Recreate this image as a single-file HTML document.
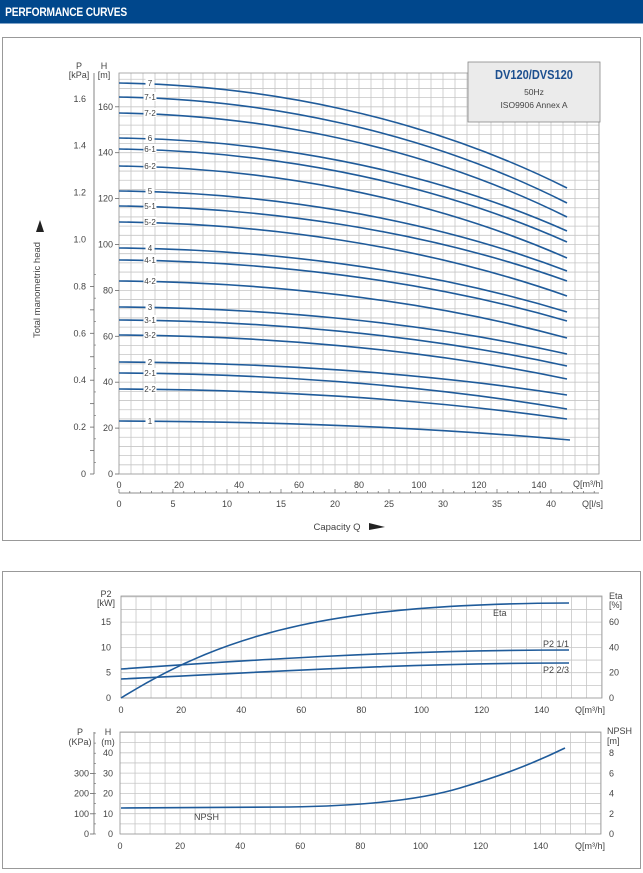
<!DOCTYPE html>
<html><head><meta charset="utf-8"><style>
body{margin:0;background:#fff;}
svg{display:block;font-family:"Liberation Sans",sans-serif;}
</style></head><body>
<svg id="s" width="643" height="873" viewBox="0 0 643 873" xmlns="http://www.w3.org/2000/svg">
<rect x="0" y="0" width="643" height="23" fill="#00478c"/>
<rect x="0" y="23" width="643" height="1" fill="#7fa3c8"/>
<text x="6" y="16" font-size="12" font-weight="bold" fill="#fff" transform="scale(0.85,1)" style="letter-spacing:-0.2px">PERFORMANCE CURVES</text>
<rect x="2.5" y="37.5" width="638" height="503" fill="none" stroke="#999" stroke-width="1"/>
<rect x="2.5" y="571.5" width="638" height="297" fill="none" stroke="#999" stroke-width="1"/>
<g id="grids"></g>
<g id="curves" fill="none" stroke="#1f5b9a" stroke-width="1.6"></g>
<rect x="468" y="62" width="132" height="60" fill="#ebebeb" stroke="#888" stroke-width="0.8"/>
<text x="534" y="79" font-size="13" font-weight="bold" fill="#1c4f8f" text-anchor="middle" transform="translate(534,0) scale(0.85,1) translate(-534,0)">DV120/DVS120</text>
<text x="534" y="95" font-size="8.5" fill="#444" text-anchor="middle">50Hz</text>
<text x="534" y="108" font-size="8.5" fill="#444" text-anchor="middle">ISO9906 Annex A</text>
<g font-size="9" fill="#444" id="txt">
<text x="79" y="69" text-anchor="middle">P</text><text x="79" y="78" text-anchor="middle">[kPa]</text>
<text x="104" y="69" text-anchor="middle">H</text><text x="104" y="78" text-anchor="middle">[m]</text>
<text x="40" y="290" font-size="9.5" text-anchor="middle" transform="rotate(-90 40 290)">Total manometric head</text>
<polygon points="36,232 44,232 40,220" fill="#222"/>
<text x="337" y="530" text-anchor="middle" font-size="9.5">Capacity Q</text>
<polygon points="369,523 385,527 369,530" fill="#222"/>
<text x="573" y="487" font-size="9">Q[m³/h]</text>
<text x="582" y="507" font-size="9">Q[l/s]</text>
<text x="106" y="597" text-anchor="middle">P2</text><text x="106" y="606" text-anchor="middle">[kW]</text>
<text x="609" y="599">Eta</text><text x="609" y="608">[%]</text>
<text x="493" y="616">Eta</text>
<text x="543" y="647">P2 1/1</text>
<text x="543" y="673">P2 2/3</text>
<text x="575" y="713">Q[m³/h]</text>
<text x="80" y="735" text-anchor="middle">P</text><text x="80" y="745" text-anchor="middle">(KPa)</text>
<text x="108" y="735" text-anchor="middle">H</text><text x="108" y="745" text-anchor="middle">(m)</text>
<text x="607" y="734">NPSH</text><text x="607" y="744">[m]</text>
<text x="194" y="820">NPSH</text>
<text x="575" y="849">Q[m³/h]</text>
</g>
<g id="ticks" font-size="9" fill="#444"></g>
</svg>
<script>
var NS="http://www.w3.org/2000/svg";
function el(p,t,a,txt){var e=document.createElementNS(NS,t);for(var k in a)e.setAttribute(k,a[k]);if(txt!==undefined)e.textContent=txt;document.getElementById(p).appendChild(e);return e;}
function line(p,x1,y1,x2,y2,c,w){el(p,"line",{x1:x1,y1:y1,x2:x2,y2:y2,stroke:c,"stroke-width":w||1});}
function grid(x0,x1,y0,y1,dx,dy){
 for(var x=x0;x<=x1+0.1;x+=dx)line("grids",x,y0,x,y1,"#c6c6c6",0.8);
 for(var y=y1;y>=y0-0.1;y-=dy)line("grids",x0,y,x1,y,"#c6c6c6",0.8);
 el("grids","rect",{x:x0,y:y0,width:x1-x0,height:y1-y0,fill:"none",stroke:"#999","stroke-width":0.8});
}
grid(119,599,73,474,12,9.18);
line("grids",94,73,94,474,"#666",0.8);
for(var i=0;i<=8;i++){var y=474-i*23.45;line("grids",90,y,94,y,"#666",0.8);line("grids",94,y-11.7,96,y-11.7,"#666",0.6);}
for(var i=0;i<=8;i++){var y=474-i*45.9;line("grids",115,y,119,y,"#666",0.8);}
var P=["0","0.2","0.4","0.6","0.8","1.0","1.2","1.4","1.6"];
for(var i=0;i<=8;i++)el("ticks","text",{x:86,y:477-i*46.9,"text-anchor":"end"},P[i]);
for(var i=0;i<=8;i++)el("ticks","text",{x:113,y:477-i*45.9,"text-anchor":"end"},String(i*20));
for(var i=0;i<=7;i++)el("ticks","text",{x:119+i*60,y:488,"text-anchor":"middle"},String(i*20));
line("grids",119,493,599,493,"#666",0.8);
for(var q=0;q<=44;q++){var x=119+q*10.8;if(x>600)break;line("grids",x,q%5==0?489:491,x,493,"#666",0.7);}
for(var i=0;i<=8;i++)el("ticks","text",{x:119+i*54,y:507,"text-anchor":"middle"},String(i*5));
var C=[["7",83,188],["7-1",97,203],["7-2",113,217],["6",138,231],["6-1",149,242],["6-2",166,258],["5",191,271],["5-1",206,281],["5-2",222,296],["4",248,312],["4-1",260,321],["4-2",281,338],["3",307,354],["3-1",320,366],["3-2",335,379],["2",362,395],["2-1",373,409],["2-2",389,419],["1",421,440]];
C.forEach(function(c){var x1=c[0]=="1"?570:567;var y0=c[1],y1=c[2];
 el("curves","path",{d:"M119,"+y0+" C260,"+(y0+(y1-y0)*0.02)+" 420,"+(y0+(y1-y0)*0.3)+" "+x1+","+y1});
 var w=c[0].length>1?13:9;
 el("ticks","rect",{x:150-w/2,y:y0-5,width:w,height:9,fill:"#fff"});
 el("ticks","text",{x:150,y:y0+3,"text-anchor":"middle","font-size":8},c[0]);
});
grid(121,602,596,698,15.02,12.65);
for(var i=0;i<=3;i++)el("ticks","text",{x:111,y:701-i*25.3,"text-anchor":"end"},String(i*5));
for(var i=0;i<=3;i++)el("ticks","text",{x:609,y:701-i*25.3},String(i*20));
for(var i=0;i<=7;i++)el("ticks","text",{x:121+i*60.1,y:713,"text-anchor":"middle"},String(i*20));
el("curves","path",{d:"M121,698 C230,630 340,604 569,603"});
el("curves","path",{d:"M121,669 C250,660 400,650 569,650"});
el("curves","path",{d:"M121,679 C250,673 400,663 569,663"});
grid(120,601,732,834,15.02,10.15);
line("grids",94,732,94,834,"#666",0.8);
for(var i=0;i<=10;i++){var y=834-i*10.1;line("grids",94,y,96,y,"#666",0.6);}
for(var i=0;i<=3;i++){var y=834-i*20.2;line("grids",90,y,94,y,"#666",0.8);el("ticks","text",{x:89,y:837-i*20.2,"text-anchor":"end"},String(i*100));}
for(var i=0;i<=4;i++)el("ticks","text",{x:113,y:837-i*20.2,"text-anchor":"end"},String(i*10));
for(var i=0;i<=4;i++)el("ticks","text",{x:609,y:837-i*20.2},String(i*2));
for(var i=0;i<=7;i++)el("ticks","text",{x:120+i*60.1,y:849,"text-anchor":"middle"},String(i*20));
el("curves","path",{d:"M121,808 L289,807 C360,806 420,800 460,788 C500,776 530,765 565,748"});
</script>
</body></html>
